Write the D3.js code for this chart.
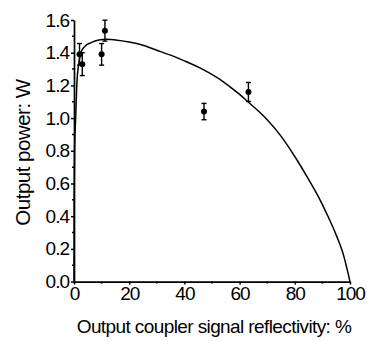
<!DOCTYPE html>
<html><head><meta charset="utf-8">
<script src="https://cdn.jsdelivr.net/npm/d3@7"></script>
<style>body{margin:0;background:#fff}svg{display:block}</style>
</head><body>
<script>
// Measured data points
const pointX = [2, 3, 10, 11.2, 47.1, 63.2];
const pointY = [1.39, 1.33, 1.39, 1.535, 1.04, 1.16];
const pointErr = [0.066, 0.07, 0.066, 0.064, 0.05, 0.058];
// Fitted curve
const curveX = [0, 0.05, 0.2, 0.6, 1.1, 1.6, 2.5, 4, 6, 9, 12, 15, 20, 25, 30, 35, 40, 47, 53, 57, 60, 63, 67, 70, 75, 80, 85, 89, 92, 95, 97.6, 100];
const curveY = [0, 0.5, 0.8, 1.0, 1.23, 1.32, 1.40, 1.44, 1.46, 1.478, 1.482, 1.478, 1.465, 1.445, 1.415, 1.385, 1.35, 1.295, 1.235, 1.185, 1.145, 1.10, 1.04, 0.99, 0.89, 0.765, 0.625, 0.505, 0.40, 0.285, 0.165, 0];
const xTicks = [0, 20, 40, 60, 80, 100];
const yTicks = [0.0, 0.2, 0.4, 0.6, 0.8, 1.0, 1.2, 1.4, 1.6];
const xLabel = "Output coupler signal reflectivity: %";
const yLabel = "Output power: W";

const W = 367, H = 341;
const svg = d3.select("body").append("svg").attr("width", W).attr("height", H);
const x = d3.scaleLinear().domain([0, 100]).range([74, 350]);
const y = d3.scaleLinear().domain([0, 1.6]).range([281.6, 20]);
const font = "Liberation Sans, Arial, sans-serif";

// minor ticks
const xMinor = d3.range(0, 101, 10).filter(v => !xTicks.includes(v));
const yMinor = d3.range(1, 16, 2).map(v => v / 10);

const gx = svg.append("g").attr("transform", `translate(0,${y(0)})`);
gx.call(d3.axisBottom(x).tickValues(xTicks).tickFormat(d3.format("d")).tickSize(3).tickSizeOuter(0).tickPadding(2));
gx.append("g").selectAll("line").data(xMinor).join("line")
  .attr("x1", d => x(d)).attr("x2", d => x(d)).attr("y1", 0).attr("y2", 2).attr("stroke", "#000").attr("stroke-width", 1.5);

const gy = svg.append("g").attr("transform", `translate(${x(0)},0)`);
gy.call(d3.axisLeft(y).tickValues(yTicks).tickFormat(d3.format(".1f")).tickSize(3).tickSizeOuter(0).tickPadding(2));
gy.append("g").selectAll("line").data(yMinor).join("line")
  .attr("y1", d => y(d)).attr("y2", d => y(d)).attr("x1", 0).attr("x2", -2).attr("stroke", "#000").attr("stroke-width", 1.5);

svg.selectAll(".domain").attr("stroke", "#000").attr("stroke-width", 1.7);
svg.selectAll(".tick line").attr("stroke", "#000").attr("stroke-width", 1.5);
svg.selectAll(".tick text").attr("font-family", font).attr("font-size", 19).attr("fill", "#000").attr("letter-spacing", -1);

// curve
const curveData = curveX.map((v, i) => [v, curveY[i]]);
svg.append("path").datum(curveData)
  .attr("fill", "none").attr("stroke", "#000").attr("stroke-width", 1.5)
  .attr("d", d3.line().x(d => x(d[0])).y(d => y(d[1])).curve(d3.curveMonotoneX));

// error bars & points
const pts = pointX.map((v, i) => ({x: v, y: pointY[i], e: pointErr[i]}));
const eb = svg.append("g").attr("stroke", "#000").attr("stroke-width", 1.4);
eb.selectAll(".v").data(pts).join("line")
  .attr("x1", d => x(d.x)).attr("x2", d => x(d.x)).attr("y1", d => y(d.y - d.e)).attr("y2", d => y(d.y + d.e));
eb.selectAll(".t").data(pts).join("line")
  .attr("x1", d => x(d.x) - 2.5).attr("x2", d => x(d.x) + 2.5).attr("y1", d => y(d.y + d.e)).attr("y2", d => y(d.y + d.e));
eb.selectAll(".b").data(pts).join("line")
  .attr("x1", d => x(d.x) - 2.5).attr("x2", d => x(d.x) + 2.5).attr("y1", d => y(d.y - d.e)).attr("y2", d => y(d.y - d.e));
svg.append("g").selectAll("circle").data(pts).join("circle")
  .attr("cx", d => x(d.x)).attr("cy", d => y(d.y)).attr("r", 3).attr("fill", "#000");

// axis labels
svg.append("text").attr("x", 214).attr("y", 333).attr("text-anchor", "middle")
  .attr("font-family", font).attr("font-size", 19).attr("letter-spacing", -0.6).text(xLabel);
svg.append("text").attr("transform", "translate(30,152.5) rotate(-90)").attr("text-anchor", "middle")
  .attr("font-family", font).attr("font-size", 20.5).attr("letter-spacing", -0.5).text(yLabel);
</script>
</body></html>
